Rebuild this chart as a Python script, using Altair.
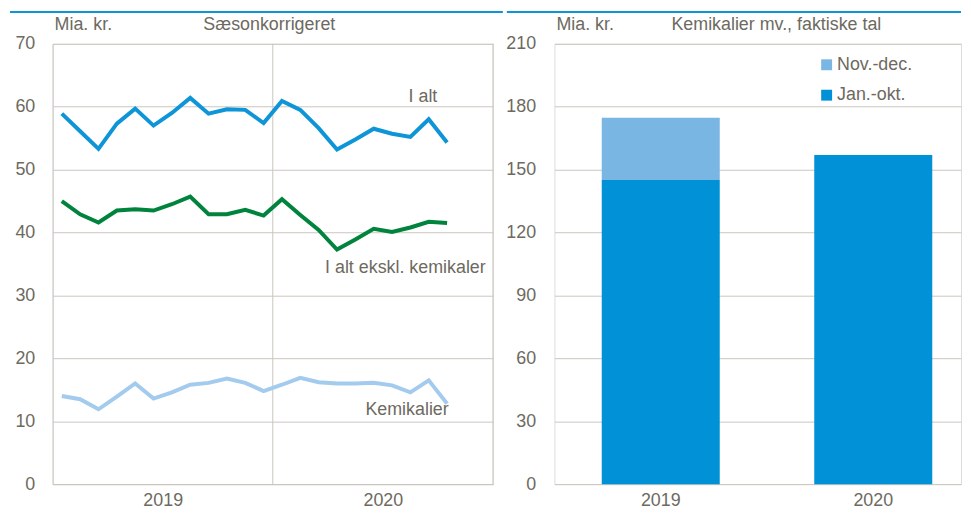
import altair as alt
import pandas as pd

# ---------------- data ----------------
i_alt = [58.9, 56.1, 53.3, 57.3, 59.7, 57.0, 59.0, 61.4, 58.9, 59.6, 59.5, 57.4,
         60.9, 59.5, 56.6, 53.2, 54.8, 56.5, 55.7, 55.2, 58.0, 54.3]
ekskl = [45.0, 42.9, 41.6, 43.5, 43.7, 43.5, 44.5, 45.7, 42.9, 42.9, 43.6, 42.7,
         45.3, 42.8, 40.4, 37.3, 38.9, 40.6, 40.1, 40.8, 41.7, 41.5]
kemi = [14.0, 13.5, 11.9, 13.9, 16.0, 13.6, 14.6, 15.8, 16.1, 16.8, 16.1, 14.8,
        15.8, 16.9, 16.2, 16.0, 16.0, 16.1, 15.7, 14.6, 16.5, 12.8]
series_names = ["I alt", "I alt ekskl. kemikaler", "Kemikalier"]

bar_years = ["2019", "2020"]
jan_okt = [145.1, 157.0]
nov_dec = [29.6, 0.0]
bar_parts = ["Nov.-dec.", "Jan.-okt."]

# ---------------- style ----------------
FONT = "Liberation Sans"
TXT = "#6d6a5f"
GRID = "#c9c6bd"
C_IALT = "#0d95d8"
C_EKS = "#00843d"
C_KEM = "#a3cbee"
C_JAN = "#0091d6"
C_NOV = "#79b6e3"
FS = 18

LW, LH = 444, 444
RW, RH = 410, 444
REXT = 48
TOPY = -32
HEADY = -19

# ---------------- left chart ----------------
rows = []
for name, vals in zip(series_names, [i_alt, ekskl, kemi]):
    for i, v in enumerate(vals):
        rows.append({"m": i + 0.5, "v": v, "s": name})
ldf = pd.DataFrame(rows)

xl = alt.X("m:Q", scale=alt.Scale(domain=[0, 24], nice=False),
           axis=alt.Axis(values=[6, 18], labelExpr="datum.value < 12 ? '2019' : '2020'",
                         grid=False, ticks=False, domain=True, domainColor=GRID,
                         labelFontSize=FS, labelColor=TXT, labelFont=FONT,
                         labelPadding=8, title=None))
yl = alt.Y("v:Q", scale=alt.Scale(domain=[0, 70], nice=False),
           axis=alt.Axis(values=list(range(0, 71, 10)), grid=True, gridColor=GRID,
                         domain=True, domainColor=GRID, ticks=False,
                         labelFontSize=FS, labelColor=TXT, labelFont=FONT,
                         labelPadding=18, minExtent=43, maxExtent=43, title=None))

lines = alt.Chart(ldf).mark_line(strokeWidth=4, strokeJoin="miter").encode(
    x=xl, y=yl,
    color=alt.Color("s:N", scale=alt.Scale(domain=series_names, range=[C_IALT, C_EKS, C_KEM]),
                    legend=None),
    detail="s:N",
)

sep = alt.Chart(pd.DataFrame({"m": [12, 24], "v": [0, 0], "v2": [70, 70]})).mark_rule(
    color=GRID, strokeWidth=1).encode(x="m:Q", y="v:Q", y2="v2:Q")

lab_df = pd.DataFrame({
    "m": [19.4, 14.85, 17.05],
    "v": [61.5, 34.4, 11.7],
    "t": series_names,
})
labels = alt.Chart(lab_df).mark_text(align="left", baseline="middle", font=FONT,
                                     fontSize=FS, color=TXT).encode(x="m:Q", y="v:Q", text="t:N")

lhead = alt.Chart(pd.DataFrame({"t": ["Mia. kr.", "Sæsonkorrigeret"], "px": [2, 152]})).mark_text(
    align="left", baseline="middle", font=FONT, fontSize=FS, color=TXT).encode(
    x=alt.X("px:Q", scale=None), y=alt.value(HEADY), text="t:N")

ltop = alt.Chart(pd.DataFrame({"a": [0]})).mark_rule(color=C_IALT, strokeWidth=2).encode(
    x=alt.value(-43), x2=alt.value(LW + 10), y=alt.value(TOPY))

left = alt.layer(ltop, sep, lines, labels, lhead).properties(width=LW, height=LH)

# ---------------- right chart ----------------
brows = []
for y, a, b in zip(bar_years, jan_okt, nov_dec):
    brows.append({"yr": y, "part": "Jan.-okt.", "val": a, "ord": 0})
    brows.append({"yr": y, "part": "Nov.-dec.", "val": b, "ord": 1})
bdf = pd.DataFrame(brows)
bdf["col"] = bdf["part"].map({bar_parts[0]: C_NOV, bar_parts[1]: C_JAN})

yr_scale = alt.Scale(domain=[0, 210], nice=False)
bars = alt.Chart(bdf).mark_bar().encode(
    x=alt.X("yr:N", scale=alt.Scale(paddingInner=0.4447, paddingOuter=0.179, align=0.622),
            axis=alt.Axis(labelAngle=0, ticks=False, domain=False, grid=False,
                          labelFontSize=FS, labelColor=TXT, labelFont=FONT,
                          labelPadding=8, title=None)),
    y=alt.Y("val:Q", stack="zero", scale=yr_scale,
            axis=alt.Axis(values=list(range(0, 211, 30)), grid=True, gridColor=GRID,
                          domain=False, ticks=False, labelFontSize=FS, labelColor=TXT,
                          labelFont=FONT, labelPadding=19, minExtent=REXT, maxExtent=REXT,
                          title=None)),
    fill=alt.Fill("col:N", scale=None),
    order=alt.Order("ord:Q"),
)

leg_df = pd.DataFrame({"part": bar_parts, "ly": [200.0, 185.5]})
leg_df["col"] = [C_NOV, C_JAN]
leg_sq = alt.Chart(leg_df).mark_square(size=121, opacity=1).encode(
    x=alt.value(274.5), y=alt.Y("ly:Q", scale=yr_scale),
    fill=alt.Fill("col:N", scale=None))
leg_tx = alt.Chart(leg_df).mark_text(align="left", baseline="middle", font=FONT,
                                     fontSize=FS, color=TXT).encode(
    x=alt.value(285), y=alt.Y("ly:Q", scale=yr_scale), text="part:N")

rhead = alt.Chart(pd.DataFrame({"t": ["Mia. kr.", "Kemikalier mv., faktiske tal"],
                                "px": [2, 118]})).mark_text(
    align="left", baseline="middle", font=FONT, fontSize=FS, color=TXT).encode(
    x=alt.X("px:Q", scale=None), y=alt.value(HEADY), text="t:N")

rtop = alt.Chart(pd.DataFrame({"a": [0]})).mark_rule(color=C_IALT, strokeWidth=2).encode(
    x=alt.value(-REXT), x2=alt.value(RW), y=alt.value(TOPY))

right = alt.layer(rtop, bars, leg_sq, leg_tx, rhead).properties(width=RW, height=RH)

chart = alt.hconcat(left, right, spacing=0).properties(
    padding={"left": 0, "top": 0, "right": 0, "bottom": 0}
).configure_view(stroke=None).configure(font=FONT)

chart.save("out.html", embed_options={"renderer": "svg", "actions": False})
